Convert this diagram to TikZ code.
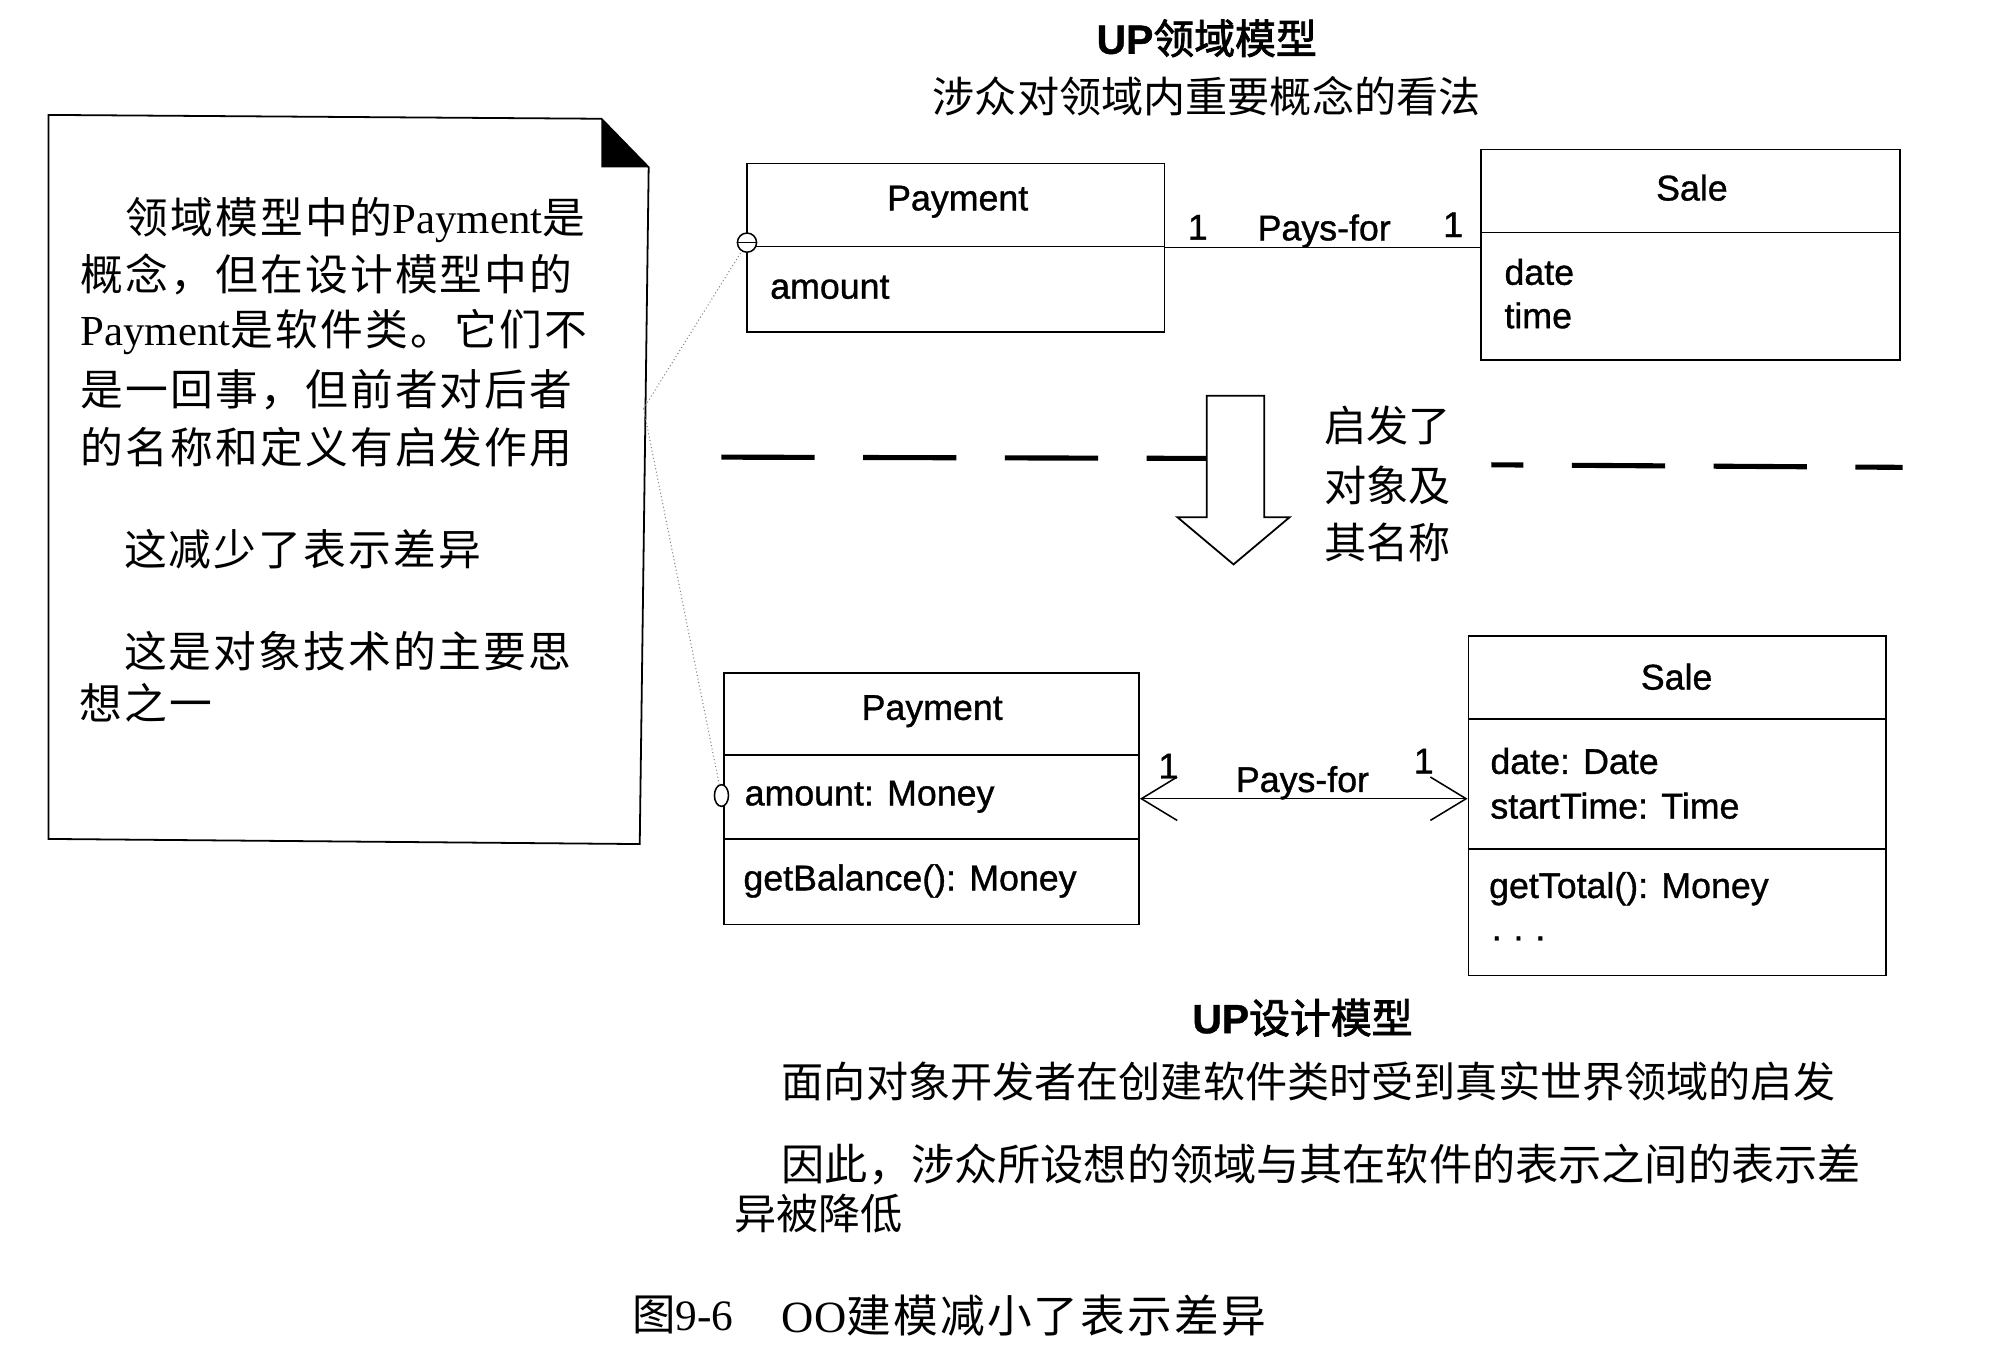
\documentclass[tikz,border=0pt]{standalone}
\usepackage{fontspec}
\setmainfont{Liberation Serif}
\setsansfont{Liberation Sans}
\newfontfamily\cjk{Noto Sans CJK SC}
\newfontfamily\cjkn[LetterSpace=5]{Noto Sans CJK SC}
\newfontfamily\cjkb[FakeBold=2]{Noto Sans CJK SC}
\newfontfamily\cls[FakeBold=1]{Liberation Sans}
\usetikzlibrary{arrows.meta,shapes.geometric}
\tikzset{
  box/.style={draw, line width=1.4pt, rectangle, inner sep=0pt},
  clstext/.style={font=\cls\fontsize{28}{32}\selectfont, inner sep=0pt},
  notetext/.style={font=\cjkn\fontsize{33.5}{40}\selectfont, inner sep=0pt, anchor=west},
  captext/.style={font=\cjk\fontsize{33}{40}\selectfont, inner sep=0pt, anchor=west},
  titletext/.style={font=\fontsize{32}{38}\selectfont, inner sep=0pt},
  assoc/.style={line width=1.2pt},
  dashline/.style={line width=4pt, dash pattern=on 73pt off 38pt},
  notelink/.style={gray, line width=0.8pt, dotted}
}
\begin{document}
\begin{tikzpicture}[x=1pt,y=-1pt]
\useasboundingbox (0,0) rectangle (1560,1067);
\fill[white] (0,0) rectangle (1560,1067);

% ---------- note ----------
\draw[line width=1.4pt, fill=white] (38,90) -- (471,93) -- (508,131) -- (501,661) -- (38,657) -- cycle;
\fill[black] (471,93) -- (508,131) -- (471,131) -- cycle;
\coordinate (na) at (504,320);
\node[notetext] (n1) at (98,172) {领域模型中的{\rmfamily Payment}是};
\node[notetext] (n2) at (63,215) {概念，但在设计模型中的};
\node[notetext] (n3) at (63,260) {{\rmfamily Payment}是软件类。它们不};
\node[notetext] (n4) at (63,305) {是一回事，但前者对后者};
\node[notetext] (n5) at (63,350) {的名称和定义有启发作用};
\node[notetext] (n6) at (97,430) {这减少了表示差异};
\node[notetext] (n7) at (97,510) {这是对象技术的主要思};
\node[notetext] (n8) at (62,550) {想之一};

% ---------- titles ----------
\node[titletext] (t1) at (945,30) {{\cls\bfseries UP}{\cjkb 领域模型}};
\node[captext, anchor=center] (t2) at (945,75) {涉众对领域内重要概念的看法};

% ---------- upper (domain) model ----------
\node[box, minimum width=327pt, minimum height=132pt] (p1) at (748.5,194) {};
\draw[line width=1.4pt] (p1.west |- 0,193) -- (p1.east |- 0,193);
\node[clstext] (p1n) at (750,158) {Payment};
\node[clstext, anchor=west] (p1a) at (603,225) {amount};

\node[box, minimum width=328pt, minimum height=165pt] (s1) at (1324,199.5) {};
\draw[line width=1.4pt] (s1.west |- 0,182) -- (s1.east |- 0,182);
\node[clstext] (s1n) at (1325,147) {Sale};
\node[clstext, anchor=west] (s1a) at (1178,213) {date};
\node[clstext, anchor=west] (s1b) at (1178,247) {time};

\draw[assoc] (p1.east) -- (p1.east -| s1.west);
\node[clstext] (m1) at (938,178) {1};
\node[clstext] (l1) at (1037,181) {Pays-for};
\node[clstext] (m2) at (1138,176) {1};

\node[circle, draw, line width=1.2pt, fill=white, inner sep=0pt, minimum size=15pt] (c1) at (585,190) {};
\draw[line width=1.2pt] (c1.west) -- (c1.east);

% ---------- separator and block arrow ----------
\draw[dashline] (565,358) -- (945,359);
\draw[dashline, dash phase=48pt] (1168,364) -- (1490,366);
\draw[line width=1.4pt, fill=white] (945,310) -- (990,310) -- (990,405) -- (1010,405) -- (966,442) -- (922,405) -- (945,405) -- cycle;
\node[captext] (h1) at (1037,333) {启发了};
\node[captext] (h2) at (1037,380) {对象及};
\node[captext] (h3) at (1037,425) {其名称};

% ---------- lower (design) model ----------
\node[box, minimum width=325pt, minimum height=197pt] (p2) at (729.5,625.5) {};
\draw[line width=1.4pt] (p2.west |- 0,591) -- (p2.east |- 0,591);
\draw[line width=1.4pt] (p2.west |- 0,657) -- (p2.east |- 0,657);
\node[clstext] (p2n) at (730,557) {Payment};
\node[clstext, anchor=west] (p2a) at (583,624) {amount: Money};
\node[clstext, anchor=west] (p2o) at (582,690) {getBalance(): Money};

\node[box, minimum width=327pt, minimum height=266pt] (s2) at (1313.5,631) {};
\draw[line width=1.4pt] (s2.west |- 0,563) -- (s2.east |- 0,563);
\draw[line width=1.4pt] (s2.west |- 0,665) -- (s2.east |- 0,665);
\node[clstext] (s2n) at (1313,530) {Sale};
\node[clstext, anchor=west] (s2a) at (1167,596) {date: Date};
\node[clstext, anchor=west] (s2b) at (1167,631) {startTime: Time};
\node[clstext, anchor=west] (s2o) at (1166,696) {getTotal(): Money};
\node[clstext, anchor=west] (s2d) at (1168,735) {.\,\,.\,\,.};

\draw[assoc, {Straight Barb[length=28pt, width=34pt]}-{Straight Barb[length=28pt, width=34pt]}] (p2.east) -- (p2.east -| s2.west);
\node[clstext] (m3) at (915,600) {1};
\node[clstext] (l2) at (1020,613) {Pays-for};
\node[clstext] (m4) at (1115,596) {1};

\node[ellipse, draw, line width=1.2pt, fill=white, inner sep=0pt, minimum width=11pt, minimum height=17pt] (c2) at (565,623) {};

% ---------- note links ----------
\draw[notelink] (na) -- (c1);
\draw[notelink] (na) -- (c2);

% ---------- bottom captions ----------
\node[titletext] (t3) at (1020,797) {{\cls\bfseries UP}{\cjkb 设计模型}};
\node[captext] (b1) at (612,847) {面向对象开发者在创建软件类时受到真实世界领域的启发};
\node[captext, font=\cjk\fontsize{33.8}{40}\selectfont] (b2) at (612,912) {因此，涉众所设想的领域与其在软件的表示之间的表示差};
\node[captext] (b3) at (575,950) {异被降低};
\node[captext, font=\cjk\fontsize{34}{40}\selectfont] (f1) at (495,1030) {图{\rmfamily 9-6}};
\node[captext, font=\cjkn\fontsize{35}{40}\selectfont] (f2) at (612,1030) {{\rmfamily OO}建模减小了表示差异};
\end{tikzpicture}
\end{document}
